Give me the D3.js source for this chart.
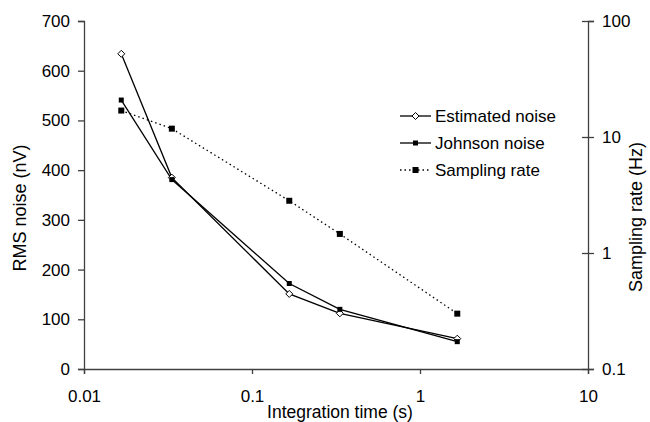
<!DOCTYPE html>
<html>
<head>
<meta charset="utf-8">
<script src="https://cdn.jsdelivr.net/npm/d3@7"></script>
<style>
  body { margin: 0; background: #fff; }
  svg { font-family: "Liberation Sans", Arial, sans-serif; }
  .axis path, .axis line { stroke: #404040; stroke-width: 1.3px; }
  .axis text { font-size: 17px; fill: #000; }
</style>
</head>
<body>
<svg id="chart"></svg>
<script>
// integration times (s)
const times = [1/60, 1/30, 1/6, 1/3, 5/3];
const estimatedNoise = [634, 385, 151, 112, 61];
const johnsonNoise = [541, 381, 172, 120, 55];
const samplingRate = [16.9, 11.8, 2.82, 1.46, 0.30];

const xTicks = [0.01, 0.1, 1, 10];
const yTicks = [0, 100, 200, 300, 400, 500, 600, 700];
const y2Ticks = [0.1, 1, 10, 100];

const legendNames = ['Estimated noise', 'Johnson noise', 'Sampling rate'];

const width = 650, height = 422;
const margin = {top: 21, right: 62, bottom: 53, left: 84};
const w = width - margin.left - margin.right;
const h = height - margin.top - margin.bottom;

const svg = d3.select('#chart').attr('width', width).attr('height', height);
const chart = svg.append('g').attr('transform', `translate(${margin.left},${margin.top})`);

// scales
const x = d3.scaleLog().domain([0.01, 10]).range([0, w]);
const y = d3.scaleLinear().domain([0, 700]).range([h, 0]);
const y2 = d3.scaleLog().domain([0.1, 100]).range([h, 0]);

// axes
chart.append('g')
    .attr('class', 'axis')
    .attr('transform', `translate(0,${h})`)
    .call(d3.axisBottom(x).tickValues(xTicks).tickFormat(d => String(d)).tickSizeOuter(0).tickSize(5).tickPadding(16));

chart.append('g')
    .attr('class', 'axis')
    .call(d3.axisLeft(y).tickValues(yTicks).tickSizeOuter(0).tickSize(6).tickPadding(8));

chart.append('g')
    .attr('class', 'axis')
    .attr('transform', `translate(${w},0)`)
    .call(d3.axisRight(y2).tickValues(y2Ticks).tickFormat(d => String(d)).tickSizeOuter(0).tickSize(6).tickPadding(8))
    .call(g => g.selectAll('.tick line').attr('x1', -6).attr('x2', 6));

// axis titles
svg.append('text')
    .attr('x', margin.left + w / 2 + 4).attr('y', 418)
    .attr('text-anchor', 'middle').attr('font-size', 17.5)
    .text('Integration time (s)');

svg.append('text')
    .attr('transform', 'translate(26,208) rotate(-90)')
    .attr('text-anchor', 'middle').attr('font-size', 18)
    .text('RMS noise (nV)');

svg.append('text')
    .attr('transform', 'translate(642,217) rotate(-90)')
    .attr('text-anchor', 'middle').attr('font-size', 18)
    .text('Sampling rate (Hz)');

// lines
const lineNoise = d3.line().x((d, i) => x(times[i])).y(d => y(d));
const lineRate = d3.line().x((d, i) => x(times[i])).y(d => y2(d));

chart.append('path').datum(estimatedNoise)
    .attr('d', lineNoise).attr('fill', 'none').attr('stroke', '#000').attr('stroke-width', 1.3);
chart.append('path').datum(johnsonNoise)
    .attr('d', lineNoise).attr('fill', 'none').attr('stroke', '#000').attr('stroke-width', 1.3);
chart.append('path').datum(samplingRate)
    .attr('d', lineRate).attr('fill', 'none').attr('stroke', '#000').attr('stroke-width', 1.3)
    .attr('stroke-dasharray', '1.5,3');

// markers
function diamond(g, cx, cy) {
    g.append('path')
        .attr('d', `M${cx},${cy - 3.5}L${cx + 3.5},${cy}L${cx},${cy + 3.5}L${cx - 3.5},${cy}Z`)
        .attr('fill', '#fff').attr('stroke', '#000').attr('stroke-width', 1);
}
function square(g, cx, cy, s) {
    g.append('rect')
        .attr('x', cx - s / 2).attr('y', cy - s / 2)
        .attr('width', s).attr('height', s).attr('fill', '#000');
}

estimatedNoise.forEach((d, i) => diamond(chart, x(times[i]), y(d)));
johnsonNoise.forEach((d, i) => square(chart, x(times[i]), y(d), 5));
samplingRate.forEach((d, i) => square(chart, x(times[i]), y2(d), 6));

// legend
const legend = svg.append('g').attr('transform', 'translate(400,116)');
legendNames.forEach((name, i) => {
    const ly = i * 27;
    const line = legend.append('line')
        .attr('x1', 0).attr('x2', 31).attr('y1', ly).attr('y2', ly)
        .attr('stroke', '#000').attr('stroke-width', 1.3);
    if (i === 2) line.attr('stroke-dasharray', '1.5,3');
    if (i === 0) diamond(legend, 15.5, ly);
    if (i === 1) square(legend, 15.5, ly, 5);
    if (i === 2) square(legend, 15.5, ly, 6);
    legend.append('text')
        .attr('x', 35).attr('y', ly).attr('dy', '0.35em')
        .attr('font-size', 17)
        .text(name);
});
</script>
</body>
</html>
